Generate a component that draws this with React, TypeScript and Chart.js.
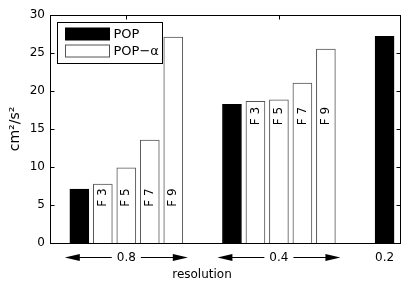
import React, { useEffect, useRef } from 'react';
import { Chart, registerables } from 'chart.js';

Chart.register(...registerables);

// ---- data ----
const resolutions = ['0.8', '0.4', '0.2'];
const groupCenters = [3.25, 9.75, 14.25];
const arrowGroups = [0, 1];
const arrowHalfSpan = 2.62;

const popX = [1.25, 7.75, 14.25];
const popValues = [7.1, 18.25, 27.2];

const popAlphaX = [2.25, 3.25, 4.25, 5.25, 8.75, 9.75, 10.75, 11.75];
const popAlphaValues = [7.75, 9.9, 13.55, 27.1, 18.65, 18.85, 21.05, 25.5];
const popAlphaLabels = ['F 3', 'F 5', 'F 7', 'F 9', 'F 3', 'F 5', 'F 7', 'F 9'];
const popAlphaLabelTops = [7.2, 7.2, 7.2, 7.2, 17.9, 17.9, 17.9, 17.9];

const yTicks = [0, 5, 10, 15, 20, 25, 30];
const seriesNames = ['POP', 'POP\u2212\u03B1'];
const yTitle = 'cm\u00B2/s\u00B2';
const xTitle = 'resolution';

const FONT = '"DejaVu Sans", "Liberation Sans", sans-serif';

const decor = {
  id: 'decor',
  beforeDatasetsDraw(chart: any) {
    const { ctx, chartArea: a, scales } = chart;
    const x = scales.x, y = scales.y;
    ctx.save();
    ctx.strokeStyle = '#000';
    ctx.lineWidth = 1;
    ctx.beginPath();
    const L = Math.round(a.left) + 0.5, R = Math.round(a.right) - 0.5;
    const T = Math.round(a.top) + 0.5, B = Math.round(a.bottom) + 0.5;
    for (const v of yTicks) {
      const py = Math.round(y.getPixelForValue(v)) + 0.5;
      ctx.moveTo(L, py); ctx.lineTo(L + 4, py);
      ctx.moveTo(R, py); ctx.lineTo(R - 4, py);
    }
    for (const i of arrowGroups) {
      const px = Math.round(x.getPixelForValue(groupCenters[i])) + 0.5;
      ctx.moveTo(px, T); ctx.lineTo(px, T + 4);
      ctx.moveTo(px, B); ctx.lineTo(px, B - 4);
    }
    ctx.stroke();
    ctx.restore();
  },
  afterDatasetsDraw(chart: any) {
    const { ctx, chartArea: a, scales } = chart;
    const x = scales.x, y = scales.y;
    ctx.save();
    // frame
    const L = Math.round(a.left) + 0.5, R = Math.round(a.right) - 0.5;
    const T = Math.round(a.top) + 0.5, B = Math.round(a.bottom) + 0.5;
    ctx.strokeStyle = '#000';
    ctx.lineWidth = 1;
    ctx.strokeRect(L, T, R - L, B - T);

    // bar labels
    ctx.fillStyle = '#000';
    ctx.font = `12px ${FONT}`;
    ctx.textAlign = 'right';
    ctx.textBaseline = 'middle';
    popAlphaX.forEach((v, i) => {
      const px = x.getPixelForValue(v);
      const py = y.getPixelForValue(popAlphaLabelTops[i]);
      ctx.save();
      ctx.translate(px, py);
      ctx.rotate(-Math.PI / 2);
      ctx.fillText(popAlphaLabels[i], 0, 0);
      ctx.restore();
    });

    // arrows around resolution labels
    ctx.font = `12px ${FONT}`;
    const ay = Math.round(a.bottom + 14) + 0.5;
    for (const i of arrowGroups) {
      const c = x.getPixelForValue(groupCenters[i]);
      const x0 = x.getPixelForValue(groupCenters[i] - arrowHalfSpan);
      const x1 = x.getPixelForValue(groupCenters[i] + arrowHalfSpan);
      const tw = ctx.measureText(resolutions[i]).width;
      const g = 5;
      ctx.beginPath();
      ctx.moveTo(x0 + 10, ay); ctx.lineTo(c - tw / 2 - g, ay);
      ctx.moveTo(c + tw / 2 + g, ay); ctx.lineTo(x1 - 10, ay);
      ctx.stroke();
      ctx.beginPath();
      ctx.moveTo(x0, ay); ctx.lineTo(x0 + 15, ay - 3.5); ctx.lineTo(x0 + 15, ay + 3.5); ctx.closePath();
      ctx.moveTo(x1, ay); ctx.lineTo(x1 - 15, ay - 3.5); ctx.lineTo(x1 - 15, ay + 3.5); ctx.closePath();
      ctx.fill();
    }

    // legend
    const ds = chart.data.datasets;
    const lx = Math.round(a.left) + 7.5, ly = Math.round(a.top) + 7.5;
    ctx.fillStyle = '#fff';
    ctx.fillRect(lx, ly, 105, 41);
    ctx.strokeStyle = '#000';
    ctx.strokeRect(lx, ly, 105, 41);
    ctx.font = `13px ${FONT}`;
    ctx.textAlign = 'left';
    ctx.textBaseline = 'middle';
    ds.forEach((d: any, i: number) => {
      const sy = ly + 5.5 + i * 17;
      ctx.fillStyle = d.backgroundColor;
      ctx.fillRect(lx + 8, sy, 44, 12);
      ctx.strokeStyle = d.borderColor;
      ctx.strokeRect(lx + 8, sy, 44, 12);
      ctx.fillStyle = '#000';
      ctx.fillText(d.label, lx + 56, sy + 6.5);
    });

    // axis titles
    ctx.font = `12px ${FONT}`;
    ctx.textAlign = 'center';
    ctx.fillText(xTitle, 202, 275);
    ctx.save();
    ctx.translate(15, (a.top + a.bottom) / 2);
    ctx.rotate(-Math.PI / 2);
    ctx.font = `14px ${FONT}`;
    ctx.fillText(yTitle, 0, 0);
    ctx.restore();

    ctx.restore();
  },
};

export default function App() {
  const ref = useRef<HTMLCanvasElement>(null);
  useEffect(() => {
    document.body.style.margin = '0';
    const chart = new Chart(ref.current as HTMLCanvasElement, {
      type: 'bar',
      data: {
        datasets: [
          {
            label: seriesNames[0],
            data: popX.map((v, i) => ({ x: v, y: popValues[i] })),
            backgroundColor: '#000',
            borderColor: '#000',
            borderWidth: 1,
            barThickness: 19,
            grouped: false,
          } as any,
          {
            label: seriesNames[1],
            data: popAlphaX.map((v, i) => ({ x: v, y: popAlphaValues[i] })),
            backgroundColor: '#fff',
            borderColor: '#555',
            borderWidth: 1,
            barThickness: 19,
            grouped: false,
          } as any,
        ],
      },
      options: {
        animation: false,
        responsive: false,
        layout: { padding: { top: 15, right: 9, left: 0, bottom: 0 } },
        plugins: { legend: { display: false }, tooltip: { enabled: false } },
        scales: {
          x: {
            type: 'linear',
            min: 0,
            max: 14.95,
            offset: false,
            grid: { display: false, drawTicks: false },
            border: { display: false },
            afterBuildTicks: (s: any) => {
              s.ticks = groupCenters.map((v) => ({ value: v }));
            },
            afterFit: (s: any) => { s.height = 43; },
            ticks: {
              autoSkip: false,
              maxRotation: 0,
              padding: 8,
              color: '#000',
              font: { family: FONT, size: 12 },
              callback: (_v: any, i: number) => resolutions[i],
            },
          },
          y: {
            min: 0,
            max: 30,
            grid: { display: false, drawTicks: false },
            border: { display: false },
            afterFit: (s: any) => { s.width = 50; },
            ticks: {
              stepSize: 5,
              padding: 5,
              color: '#000',
              font: { family: FONT, size: 12 },
            },
          },
        },
      } as any,
      plugins: [decor],
    });
    return () => chart.destroy();
  }, []);
  return <canvas ref={ref} width={410} height={286} style={{ display: 'block' }} />;
}
